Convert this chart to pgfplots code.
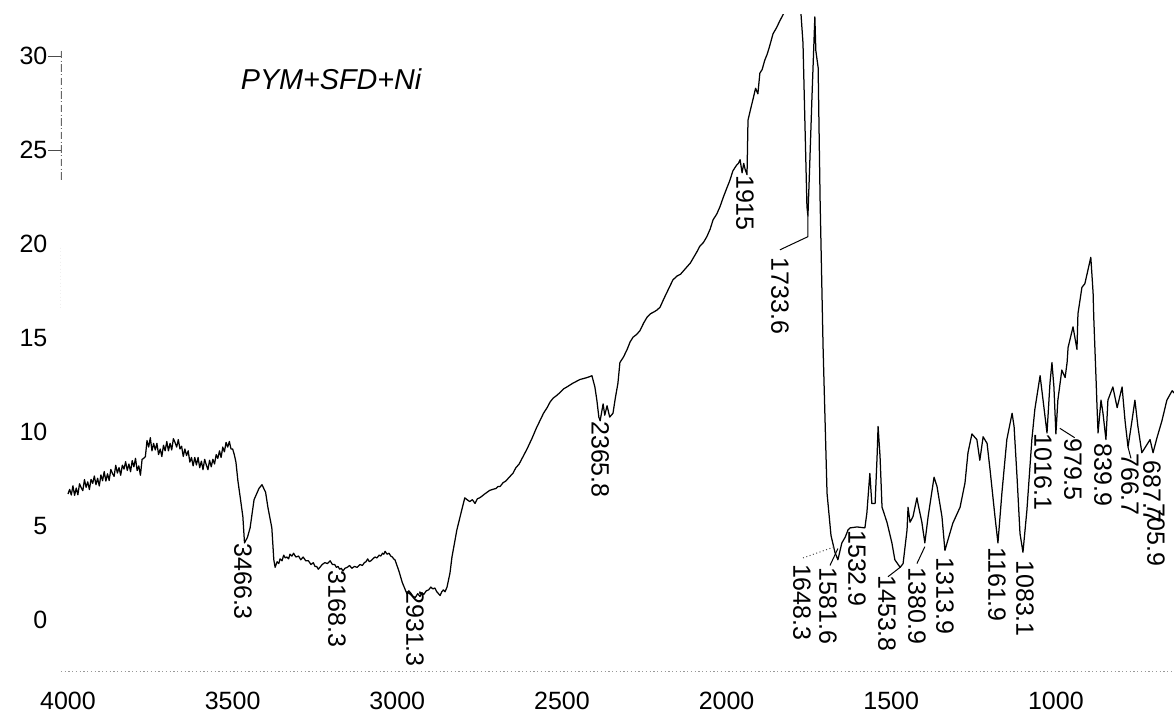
\documentclass[border=0pt]{standalone}
\usepackage{pgfplots}
\pgfplotsset{compat=1.18}
\usepackage{pgfplotstable}
\usepackage{fontspec}
\setmainfont{Liberation Sans}
\pgfplotstableread{
nu T
4000 6.70
3995 6.95
3990 6.65
3985 7.14
3980 6.63
3975 7.02
3970 6.66
3965 7.25
3960 7.04
3955 6.88
3950 7.47
3945 7.06
3940 7.35
3935 6.94
3930 7.48
3925 7.27
3920 7.66
3915 7.20
3910 7.54
3905 7.13
3900 7.72
3895 7.41
3890 7.90
3885 7.39
3880 7.78
3875 7.42
3870 8.01
3865 7.80
3860 7.64
3855 8.23
3850 7.82
3845 8.11
3840 7.70
3835 8.24
3830 8.03
3825 8.42
3820 7.96
3815 8.30
3810 7.89
3805 8.48
3800 8.15
3795 8.60
3790 7.95
3785 8.20
3780 7.70
3775 8.55
3770 8.60
3765 8.70
3760 9.55
3755 9.20
3750 9.70
3745 9.00
3740 9.40
3735 9.05
3730 9.40
3725 8.80
3720 9.10
3715 8.70
3710 9.30
3705 9.00
3700 9.50
3695 9.00
3690 9.40
3685 9.05
3680 9.65
3675 9.45
3670 9.20
3665 9.60
3660 9.10
3655 9.25
3650 8.70
3645 9.10
3640 8.75
3635 9.00
3630 8.40
3625 8.65
3620 8.20
3615 8.65
3610 8.25
3605 8.65
3600 8.10
3595 8.45
3590 8.00
3585 8.55
3580 8.25
3575 8.00
3570 8.50
3565 8.15
3560 8.55
3555 8.30
3550 8.80
3545 8.60
3540 9.00
3535 8.65
3530 9.20
3525 8.95
3520 9.45
3515 9.20
3510 9.50
3505 9.10
3500 9.10
3495 8.80
3490 8.40
3484 7.4
3476 6.4
3469 5.5
3464 4.1
3455 4.4
3447 4.9
3435 6.4
3420 7.0
3411 7.2
3400 6.8
3393 6.0
3381 4.9
3375 3.2
3371 2.8
3365 3.1
3360 3.0
3356 3.25
3350 3.15
3345 3.45
3340 3.3
3335 3.35
3330 3.25
3326 3.5
3320 3.4
3315 3.55
3308 3.35
3300 3.4
3293 3.2
3286 3.35
3278 3.15
3270 3.15
3262 2.95
3255 3.05
3250 2.85
3245 2.85
3240 2.7
3235 2.8
3228 2.95
3220 3.05
3212 3.0
3204 3.15
3197 2.95
3190 2.95
3185 2.8
3180 2.85
3175 2.7
3170 2.75
3165 2.6
3159 2.75
3152 2.8
3145 2.9
3138 2.75
3130 2.85
3122 2.8
3113 2.95
3106 2.9
3100 3.05
3095 3.1
3090 3.25
3085 3.1
3080 3.15
3074 3.25
3068 3.35
3062 3.3
3055 3.45
3050 3.4
3045 3.55
3041 3.5
3037 3.65
3031 3.5
3025 3.55
3020 3.4
3015 3.35
3011 3.25
3007 3.2
2995 2.6
2985 2.0
2978 1.7
2971 1.4
2965 1.55
2960 1.45
2952 1.25
2945 1.2
2938 1.4
2931 1.25
2925 1.45
2920 1.35
2912 1.55
2905 1.6
2898 1.75
2892 1.65
2886 1.7
2880 1.5
2875 1.4
2870 1.3
2865 1.5
2860 1.6
2855 1.5
2849 1.75
2840 2.5
2834 3.35
2819 4.8
2805 5.8
2795 6.5
2788 6.4
2780 6.3
2772 6.4
2764 6.2
2757 6.45
2750 6.5
2742 6.6
2735 6.7
2727 6.8
2719 6.9
2710 6.95
2700 7.0
2694 7.1
2688 7.1
2679 7.3
2670 7.4
2660 7.6
2649 7.8
2640 8.1
2630 8.3
2618 8.7
2606 9.1
2598 9.4
2590 9.7
2578 10.2
2567 10.6
2556 11.0
2545 11.3
2536 11.6
2527 11.8
2516 11.95
2506 12.1
2495 12.3
2485 12.4
2476 12.5
2467 12.6
2456 12.7
2445 12.8
2434 12.85
2424 12.9
2416 12.95
2409 13.0
2400 12.4
2394 11.7
2388 10.8
2384 10.6
2375 11.5
2370 10.9
2363 11.4
2355 10.8
2345 11.0
2338 11.8
2330 12.6
2324 13.7
2313 14.0
2302 14.4
2293 14.8
2284 15.05
2273 15.2
2263 15.4
2252 15.8
2242 16.1
2231 16.3
2220 16.4
2211 16.5
2202 16.65
2193 17.0
2185 17.3
2174 17.7
2163 18.1
2151 18.3
2140 18.4
2130 18.6
2120 18.8
2110 19.0
2100 19.3
2090 19.6
2081 19.9
2070 20.1
2060 20.4
2050 20.8
2041 21.3
2030 21.6
2020 22.0
2010 22.5
1999 23.0
1990 23.4
1981 23.9
1970 24.2
1964 24.3
1959 24.5
1953 23.8
1948 24.3
1944 24.0
1938 23.7
1935 26.6
1927 27.2
1920 27.7
1912 28.3
1905 28.0
1899 29.1
1892 29.3
1884 29.8
1877 30.1
1870 30.5
1859 31.2
1849 31.5
1838 31.9
1820 32.5
1808 33.0
1790 33.5
1777 33.0
1768 30.7
1756 22.0
1753 21.5
1748 24.0
1741 27.7
1732 32.1
1729 30.3
1722 29.4
1716 22.3
1707 14.5
1695 6.75
1683 4.5
1671 3.6
1662 3.2
1650 4.1
1640 4.4
1631 4.8
1625 4.9
1604 4.95
1580 4.9
1574 5.7
1565 7.8
1559 6.2
1549 6.2
1543 8.7
1540 10.3
1534 8.7
1528 6.0
1513 5.2
1498 4.1
1489 3.2
1473 2.8
1464 3.0
1452 4.8
1449 6.0
1443 5.2
1434 5.5
1422 6.5
1419 6.2
1407 5.2
1398 4.1
1388 5.5
1376 6.9
1370 7.6
1361 7.1
1346 5.5
1337 3.7
1328 4.25
1313 5.15
1291 6.0
1276 7.3
1267 8.9
1255 9.9
1240 9.6
1231 8.5
1221 9.75
1209 9.4
1200 8.0
1185 5.5
1176 4.1
1164 6.75
1149 9.6
1133 11.0
1127 10.3
1118 7.6
1109 4.6
1100 3.6
1088 5.85
1073 9.6
1064 11.2
1048 13.0
1039 11.7
1027 9.95
1018 12.6
1012 13.7
1006 12.4
1000 9.9
994 11.7
982 13.3
972 12.9
966 13.7
963 14.5
948 15.6
936 14.4
933 16.3
921 17.7
912 17.9
903 18.6
894 19.3
891 18.5
887 17.4
885 16.1
881 14.2
878 12.8
875 11.3
872 9.95
863 11.7
857 11.0
848 9.6
842 11.7
827 12.4
814 11.3
799 12.4
790 10.6
781 9.2
769 10.6
760 11.7
751 10.3
739 8.9
714 9.6
705 8.9
693 9.7
678 10.6
663 11.7
647 12.2
636 12.0
}\spectrum
\begin{document}
\begin{tikzpicture}
\useasboundingbox (-24.4pt,-17.2pt) rectangle (445.2pt,268.8pt);
\begin{axis}[
  at={(0pt,0pt)}, anchor=south west,
  scale only axis, width=445.2pt, height=262.8pt,
  x dir=reverse, xmin=641.4, xmax=4021.3, ymin=-2.77, ymax=32.2,
  axis line style={draw=none},
  xtick={1000,1500,...,4000}, ytick={0,5,...,30},
  major tick length=0pt,
  tick label style={font=\fontsize{10}{12}\selectfont},
  xticklabel style={yshift=-4.3pt},
  yticklabel style={xshift=-1.9pt},
  /pgf/number format/assume math mode=true,
  /pgf/number format/1000 sep={},
  extra y ticks={25,30}, extra y tick labels={},
  extra y tick style={major tick length=5pt, tick align=outside, tick style={black!70, line width=0.5pt}},
  clip=true,
]
\addplot[black, line width=0.5pt, line join=round] table[x=nu, y=T] {\spectrum};
% faint scanned axis lines
\draw[black!60, densely dashdotted, line width=0.5pt] (axis cs:4021.3,30.3) -- (axis cs:4021.3,23.4);
\draw[black!50, densely dotted, line width=0.4pt] (axis cs:4021.3,19.8) -- (axis cs:4021.3,16.5);
\draw[black!40, densely dotted, line width=0.5pt] (axis cs:4021.3,-2.77) -- (axis cs:641.4,-2.77);
% title
\node[font=\itshape\fontsize{11.5}{13}\selectfont] at (axis cs:3201,28.8) {PYM+SFD+Ni};
% peak labels
\tikzset{pk/.style={rotate=-90, anchor=west, inner sep=0pt, font=\fontsize{10}{12}\selectfont}}
\node[pk] at (axis cs:3469,4.1) {3466.3};
\node[pk] at (axis cs:3183,2.66) {3168.3};
\node[pk] at (axis cs:2946,1.6) {2931.3};
\node[pk] at (axis cs:2384,10.6) {2365.8};
\node[pk] at (axis cs:1944,23.7) {1915};
\node[pk] at (axis cs:1838,19.3) {1733.6};
\node[pk] at (axis cs:1771,3.0) {1648.3};
\node[pk] at (axis cs:1692,2.8) {1581.6};
\node[pk] at (axis cs:1604,4.8) {1532.9};
\node[pk] at (axis cs:1513,2.4) {1453.8};
\node[pk] at (axis cs:1422,2.8) {1380.9};
\node[pk] at (axis cs:1337,3.35) {1313.9};
\node[pk] at (axis cs:1179,3.9) {1161.9};
\node[pk] at (axis cs:1094,3.2) {1083.1};
\node[pk] at (axis cs:1039,9.95) {1016.1};
\node[pk] at (axis cs:948,9.7) {979.5};
\node[pk] at (axis cs:857,9.4) {839.9};
\node[pk] at (axis cs:775,8.9) {766.7};
\node[pk] at (axis cs:708,8.5) {687.7};
\node[pk] at (axis cs:696,6.2) {705.9};
% leader lines
\draw[black, line width=0.4pt] (axis cs:1753,21.5) -- (axis cs:1753,20.4) -- (axis cs:1838,19.7);
\draw[black!70, densely dotted, line width=0.4pt] (axis cs:1768,3.3) -- (axis cs:1671,3.9);
\draw[black, line width=0.4pt] (axis cs:1662,3.8) -- (axis cs:1686,2.9);
\draw[black, line width=0.4pt] (axis cs:1473,2.8) -- (axis cs:1510,2.3);
\draw[black, line width=0.4pt] (axis cs:1398,3.9) -- (axis cs:1422,3.0);
\draw[black, line width=0.4pt] (axis cs:988,10.2) -- (axis cs:943,9.7);
\draw[black, line width=0.4pt] (axis cs:781,9.2) -- (axis cs:772,8.6);
\end{axis}
\end{tikzpicture}
\end{document}
